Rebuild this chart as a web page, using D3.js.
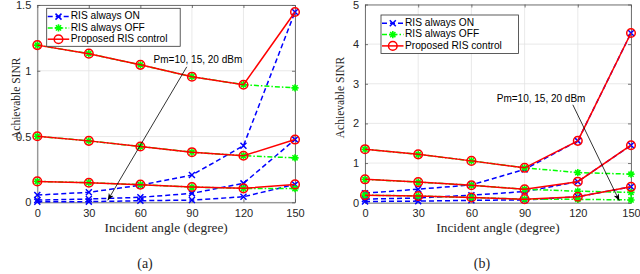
<!DOCTYPE html>
<html lang="en">
<head>
  <meta charset="UTF-8">
  <title>Achievable SINR vs incident angle</title>
  <script src="https://d3js.org/d3.v7.min.js"></script>
  <style>
    * { margin: 0; padding: 0; }
    body { background: #fff; }
    svg { display: block; }
    .tick-label { font-family: "Liberation Sans", Arial, sans-serif; font-size: 11px; fill: #262626; }
    .axis-label { font-family: "Liberation Serif", "Times New Roman", serif; fill: #262626; }
    .legend-text { font-family: "Liberation Sans", Arial, sans-serif; font-size: 10.2px; fill: #000; }
    .note { font-family: "Liberation Sans", Arial, sans-serif; font-size: 10px; fill: #000; }
  </style>
</head>
<body>
  <div id="chart"></div>
  <script>
    // incident angles (degree), shared by both panels
    var angles = [0, 30, 60, 90, 120, 150];
    var xTicks = [0, 30, 60, 90, 120, 150];

    // panel (a)
    var aTicks = [0, 0.5, 1, 1.5];
    var aOn10 = [0.004, 0.005, 0.012, 0.017, 0.042, 0.136];
    var aOn15 = [0.017, 0.025, 0.038, 0.068, 0.144, 0.477];
    var aOn20 = [0.055, 0.076, 0.13, 0.207, 0.43, 1.447];
    var aOff10 = [0.159, 0.149, 0.134, 0.116, 0.106, 0.104];
    var aOff15 = [0.502, 0.467, 0.424, 0.381, 0.354, 0.338];
    var aOff20 = [1.195, 1.13, 1.045, 0.955, 0.894, 0.87];
    var aProp10 = [0.159, 0.149, 0.134, 0.116, 0.106, 0.136];
    var aProp15 = [0.502, 0.467, 0.424, 0.381, 0.354, 0.477];
    var aProp20 = [1.195, 1.13, 1.045, 0.955, 0.894, 1.447];

    // panel (b)
    var bTicks = [0, 1, 2, 3, 4, 5];
    var bOn10 = [0.03, 0.04, 0.06, 0.07, 0.15, 0.40];
    var bOn15 = [0.09, 0.12, 0.19, 0.28, 0.53, 1.45];
    var bOn20 = [0.24, 0.34, 0.45, 0.84, 1.56, 4.28];
    var bOff10 = [0.19, 0.17, 0.13, 0.09, 0.085, 0.07];
    var bOff15 = [0.59, 0.52, 0.44, 0.34, 0.29, 0.26];
    var bOff20 = [1.35, 1.22, 1.055, 0.88, 0.76, 0.72];
    var bProp10 = [0.19, 0.17, 0.13, 0.09, 0.15, 0.40];
    var bProp15 = [0.59, 0.52, 0.44, 0.34, 0.53, 1.45];
    var bProp20 = [1.35, 1.22, 1.055, 0.88, 1.56, 4.28];

    var legendNames = ['RIS always ON', 'RIS always OFF', 'Proposed RIS control'];
    var noteText = 'Pm=10, 15, 20 dBm';

    var width = 640, height = 274;
    var svg = d3.select('#chart').append('svg')
      .attr('width', width)
      .attr('height', height);

    var panels = [
      {
        left: 37.3, right: 295, top: 5, bottom: 202.3, yMax: 1.5, ticks: aTicks,
        on: [aOn10, aOn15, aOn20], off: [aOff10, aOff15, aOff20], prop: [aProp10, aProp15, aProp20],
        legend: { x: 46.7, y: 8.3, w: 133.5, h: 38 },
        note: { tx: 93.5, ty: 1.08, x1: 87, y1: 1.03, x2: 41, y2: 0.015 },
        yLabelX: 17.3, yLabelY: 98.3, caption: '(a)', captionX: 145
      },
      {
        left: 365, right: 631, top: 4.5, bottom: 202.7, yMax: 5, ticks: bTicks,
        on: [bOn10, bOn15, bOn20], off: [bOff10, bOff15, bOff20], prop: [bProp10, bProp15, bProp20],
        legend: { x: 381, y: 15, w: 137.5, h: 38.5 },
        note: { tx: 99.3, ty: 2.6, x1: 117.2, y1: 2.47, x2: 143.4, y2: 0.05 },
        yLabelX: 341.5, yLabelY: 97.5, caption: '(b)', captionX: 482
      }
    ];

    var defs = svg.append('defs');
    defs.append('marker')
      .attr('id', 'arrow')
      .attr('viewBox', '0 0 10 10')
      .attr('refX', 10).attr('refY', 5)
      .attr('markerWidth', 7).attr('markerHeight', 7)
      .attr('markerUnits', 'userSpaceOnUse')
      .attr('orient', 'auto')
      .append('path')
      .attr('d', 'M0,1 L10,5 L0,9 L3,5 Z')
      .attr('fill', '#000');

    function drawX(g, x, y) {
      var s = 3;
      g.append('path')
        .attr('d', 'M' + (x - s) + ',' + (y - s) + 'L' + (x + s) + ',' + (y + s) +
          'M' + (x - s) + ',' + (y + s) + 'L' + (x + s) + ',' + (y - s))
        .attr('stroke', '#0000ff').attr('stroke-width', 1.5).attr('fill', 'none');
    }
    function drawStar(g, x, y) {
      var s = 3.6, d = s * 0.72;
      g.append('path')
        .attr('d', 'M' + (x - s) + ',' + y + 'L' + (x + s) + ',' + y +
          'M' + x + ',' + (y - s) + 'L' + x + ',' + (y + s) +
          'M' + (x - d) + ',' + (y - d) + 'L' + (x + d) + ',' + (y + d) +
          'M' + (x - d) + ',' + (y + d) + 'L' + (x + d) + ',' + (y - d))
        .attr('stroke', '#00ff00').attr('stroke-width', 1.6).attr('fill', 'none');
    }
    function drawCircle(g, x, y) {
      g.append('circle')
        .attr('cx', x).attr('cy', y).attr('r', 4.3)
        .attr('fill', 'none').attr('stroke', '#ff0000').attr('stroke-width', 1.5);
    }

    var styles = [
      { color: '#0000ff', dash: '5,3', marker: drawX },
      { color: '#00ff00', dash: '5,2,1.5,2', marker: drawStar },
      { color: '#ff0000', dash: null, marker: drawCircle }
    ];

    panels.forEach(function (p) {
      var x = d3.scaleLinear().domain([0, 150]).range([p.left, p.right]);
      var y = d3.scaleLinear().domain([0, p.yMax]).range([p.bottom, p.top]);
      var g = svg.append('g');

      // grid
      g.selectAll('.vgrid').data(xTicks).enter().append('line')
        .attr('x1', function (d) { return x(d); }).attr('x2', function (d) { return x(d); })
        .attr('y1', p.top).attr('y2', p.bottom)
        .attr('stroke', '#e3e3e3').attr('stroke-width', 0.8);
      g.selectAll('.hgrid').data(p.ticks).enter().append('line')
        .attr('x1', p.left).attr('x2', p.right)
        .attr('y1', function (d) { return y(d); }).attr('y2', function (d) { return y(d); })
        .attr('stroke', '#e3e3e3').attr('stroke-width', 0.8);

      // axes (ticks inside, box on)
      var bottomAxis = d3.axisBottom(x).tickValues(xTicks).tickSizeInner(-3).tickSizeOuter(0).tickPadding(7);
      var leftAxis = d3.axisLeft(y).tickValues(p.ticks).tickSizeInner(-3).tickSizeOuter(0).tickPadding(6)
        .tickFormat(function (d) { return String(d); });
      var topAxis = d3.axisTop(x).tickValues(xTicks).tickSizeInner(-3).tickSizeOuter(0).tickFormat('');
      var rightAxis = d3.axisRight(y).tickValues(p.ticks).tickSizeInner(-3).tickSizeOuter(0).tickFormat('');

      [[bottomAxis, 0, p.bottom], [leftAxis, p.left, 0], [topAxis, 0, p.top], [rightAxis, p.right, 0]]
        .forEach(function (a) {
          var ag = g.append('g').attr('transform', 'translate(' + a[1] + ',' + a[2] + ')').call(a[0]);
          ag.select('.domain').attr('stroke', '#555').attr('stroke-width', 0.8);
          ag.selectAll('.tick line').attr('stroke', '#555').attr('stroke-width', 0.8);
          ag.selectAll('.tick text').attr('class', 'tick-label').attr('font-family', null).attr('font-size', null);
        });

      // series: ON, OFF, proposed
      var line = d3.line()
        .x(function (d, i) { return x(angles[i]); })
        .y(function (d) { return y(d); });
      [p.on, p.off, p.prop].forEach(function (group, k) {
        var st = styles[k];
        group.forEach(function (vals) {
          g.append('path')
            .attr('d', line(vals))
            .attr('fill', 'none')
            .attr('stroke', st.color)
            .attr('stroke-width', 1.5)
            .attr('stroke-dasharray', st.dash);
          vals.forEach(function (v, i) { st.marker(g, x(angles[i]), y(v)); });
        });
      });

      // annotation
      g.append('text').attr('class', 'note')
        .attr('x', x(p.note.tx)).attr('y', y(p.note.ty))
        .attr('text-anchor', 'middle').attr('dominant-baseline', 'middle')
        .text(noteText);
      g.append('line')
        .attr('x1', x(p.note.x1)).attr('y1', y(p.note.y1))
        .attr('x2', x(p.note.x2)).attr('y2', y(p.note.y2))
        .attr('stroke', '#000').attr('stroke-width', 0.8)
        .attr('marker-end', 'url(#arrow)');

      // legend
      var L = p.legend;
      var lg = g.append('g');
      lg.append('rect')
        .attr('x', L.x).attr('y', L.y).attr('width', L.w).attr('height', L.h)
        .attr('fill', '#fff').attr('stroke', '#333').attr('stroke-width', 0.8);
      legendNames.forEach(function (name, k) {
        var st = styles[k];
        var ly = L.y + 8.3 + k * 11.3;
        lg.append('line')
          .attr('x1', L.x + 1).attr('x2', L.x + 22.5)
          .attr('y1', ly).attr('y2', ly)
          .attr('stroke', st.color).attr('stroke-width', 1.5)
          .attr('stroke-dasharray', st.dash);
        st.marker(lg, L.x + 11.8, ly);
        lg.append('text').attr('class', 'legend-text')
          .attr('x', L.x + 24).attr('y', ly)
          .attr('dominant-baseline', 'middle')
          .text(name);
      });

      // axis labels and caption
      g.append('text').attr('class', 'axis-label')
        .attr('x', (p.left + p.right) / 2).attr('y', 228.5)
        .attr('text-anchor', 'middle').attr('dominant-baseline', 'middle')
        .style('font-size', '13.3px')
        .text('Incident angle (degree)');
      g.append('text').attr('class', 'axis-label')
        .attr('transform', 'translate(' + p.yLabelX + ',' + p.yLabelY + ') rotate(-90)')
        .attr('text-anchor', 'middle').attr('dominant-baseline', 'middle')
        .style('font-size', '11.5px')
        .text('Achievable SINR');
      g.append('text').attr('class', 'axis-label')
        .attr('x', p.captionX).attr('y', 265)
        .attr('text-anchor', 'middle').attr('dominant-baseline', 'middle')
        .style('font-size', '14px')
        .text(p.caption);
    });
  </script>
</body>
</html>
